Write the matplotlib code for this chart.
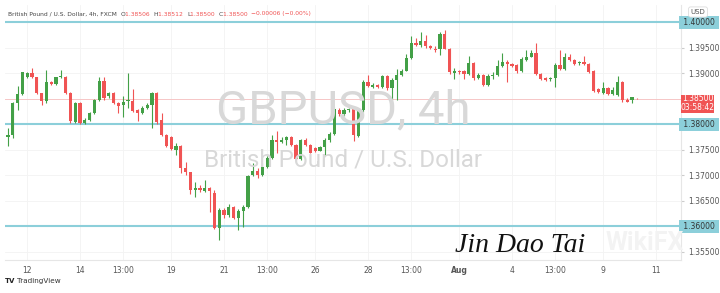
import matplotlib
matplotlib.use("Agg")
import matplotlib.pyplot as plt
import matplotlib.transforms as mtrans
from matplotlib.patches import Rectangle
import numpy as np

# ---------------- data (GBPUSD 4h, FXCM) ----------------
opens = [1.3776, 1.3780, 1.3842, 1.3859, 1.3894, 1.3900, 1.3893, 1.3861, 1.3847, 1.3883,
         1.3879, 1.3894, 1.3894, 1.3862, 1.3805, 1.3843, 1.3803, 1.3808, 1.3822, 1.3848,
         1.3886, 1.3855, 1.3862, 1.3843, 1.3838, 1.3846, 1.3847, 1.3829, 1.3822, 1.3832,
         1.3838, 1.3861, 1.3809, 1.3780, 1.3775, 1.3750, 1.3757, 1.3714, 1.3706, 1.3672,
         1.3675, 1.3670, 1.3675, 1.3666, 1.3597, 1.3633, 1.3623, 1.3638, 1.3616, 1.3631,
         1.3638, 1.3701, 1.3709, 1.3701, 1.3717, 1.3734, 1.3770, 1.3766, 1.3770, 1.3775,
         1.3760, 1.3732, 1.3770, 1.3760, 1.3753, 1.3749, 1.3755, 1.3770, 1.3781, 1.3829,
         1.3821, 1.3829, 1.3830, 1.3777, 1.3829, 1.3884, 1.3874, 1.3877, 1.3873, 1.3895,
         1.3871, 1.3887, 1.3897, 1.3905, 1.3930, 1.3960, 1.3955, 1.3964, 1.3953, 1.3949,
         1.3949, 1.3977, 1.3949, 1.3900, 1.3904, 1.3904, 1.3899, 1.3921, 1.3891, 1.3897,
         1.3877, 1.3895, 1.3897, 1.3914, 1.3923, 1.3919, 1.3917, 1.3904, 1.3927, 1.3933,
         1.3941, 1.3899, 1.3891, 1.3889, 1.3892, 1.3917, 1.3908, 1.3933, 1.3926, 1.3920,
         1.3923, 1.3919, 1.3904, 1.3869, 1.3861, 1.3871, 1.3860, 1.3858, 1.3884, 1.3849,
         1.3848, 1.38506]
highs = [1.3793, 1.3844, 1.3876, 1.3903, 1.3903, 1.3911, 1.3894, 1.3862, 1.3907, 1.3886,
         1.3893, 1.3907, 1.3895, 1.3863, 1.3844, 1.3845, 1.3813, 1.3825, 1.3850, 1.3894,
         1.3893, 1.3864, 1.3864, 1.3844, 1.3855, 1.3900, 1.3869, 1.3830, 1.3836, 1.3842,
         1.3864, 1.3864, 1.3822, 1.3782, 1.3778, 1.3763, 1.3760, 1.3727, 1.3707, 1.3688,
         1.3681, 1.3691, 1.3678, 1.3672, 1.3636, 1.3636, 1.3644, 1.3640, 1.3634, 1.3642,
         1.3701, 1.3724, 1.3715, 1.3724, 1.3738, 1.3779, 1.3788, 1.3775, 1.3778, 1.3778,
         1.3762, 1.3772, 1.3774, 1.3762, 1.3756, 1.3758, 1.3774, 1.3785, 1.3835, 1.3833,
         1.3832, 1.3832, 1.3832, 1.3832, 1.3887, 1.3897, 1.3882, 1.3879, 1.3897, 1.3897,
         1.3891, 1.3908, 1.3909, 1.3938, 1.3974, 1.3969, 1.3982, 1.3975, 1.3956, 1.3953,
         1.3981, 1.3985, 1.3950, 1.3910, 1.3907, 1.3907, 1.3934, 1.3923, 1.3901, 1.3899,
         1.3899, 1.3903, 1.3926, 1.3940, 1.3926, 1.3921, 1.3919, 1.3932, 1.3946, 1.3946,
         1.3959, 1.3901, 1.3893, 1.3894, 1.3921, 1.3947, 1.3941, 1.3938, 1.3928, 1.3925,
         1.3934, 1.3921, 1.3907, 1.3872, 1.3884, 1.3873, 1.3873, 1.3895, 1.3885, 1.3852,
         1.3853, 1.38512]
lows = [1.3757, 1.3774, 1.3829, 1.3858, 1.3892, 1.3891, 1.3860, 1.3838, 1.3842, 1.3877,
        1.3877, 1.3891, 1.3860, 1.3803, 1.3803, 1.3801, 1.3801, 1.3807, 1.3821, 1.3846,
        1.3848, 1.3851, 1.3840, 1.3822, 1.3815, 1.3832, 1.3825, 1.3806, 1.3821, 1.3830,
        1.3793, 1.3801, 1.3778, 1.3755, 1.3750, 1.3740, 1.3704, 1.3701, 1.3663, 1.3658,
        1.3668, 1.3668, 1.3629, 1.3595, 1.3574, 1.3616, 1.3619, 1.3615, 1.3593, 1.3599,
        1.3636, 1.3699, 1.3695, 1.3699, 1.3715, 1.3732, 1.3744, 1.3764, 1.3760, 1.3758,
        1.3730, 1.3730, 1.3758, 1.3744, 1.3746, 1.3748, 1.3740, 1.3766, 1.3779, 1.3817,
        1.3817, 1.3825, 1.3768, 1.3775, 1.3824, 1.3874, 1.3871, 1.3872, 1.3872, 1.3868,
        1.3848, 1.3848, 1.3895, 1.3905, 1.3928, 1.3954, 1.3952, 1.3950, 1.3948, 1.3942,
        1.3936, 1.3948, 1.3899, 1.3889, 1.3899, 1.3889, 1.3897, 1.3887, 1.3889, 1.3875,
        1.3875, 1.3889, 1.3895, 1.3913, 1.3884, 1.3913, 1.3901, 1.3903, 1.3925, 1.3932,
        1.3897, 1.3887, 1.3885, 1.3886, 1.3874, 1.3907, 1.3907, 1.3925, 1.3917, 1.3917,
        1.3917, 1.3900, 1.3864, 1.3862, 1.3860, 1.3858, 1.3858, 1.3856, 1.3845, 1.3844,
        1.3843, 1.38500]
closes = [1.3780, 1.3842, 1.3859, 1.3902, 1.3900, 1.3893, 1.3861, 1.3847, 1.3883, 1.3879,
          1.3893, 1.3896, 1.3862, 1.3807, 1.3843, 1.3803, 1.3809, 1.3822, 1.3848, 1.3886,
          1.3851, 1.3862, 1.3842, 1.3836, 1.3845, 1.3848, 1.3827, 1.3823, 1.3832, 1.3838,
          1.3861, 1.3804, 1.3780, 1.3757, 1.3751, 1.3757, 1.3714, 1.3706, 1.3672, 1.3676,
          1.3672, 1.3675, 1.3670, 1.3597, 1.3633, 1.3623, 1.3638, 1.3616, 1.3631, 1.3638,
          1.3699, 1.3708, 1.3701, 1.3717, 1.3734, 1.3770, 1.3766, 1.3770, 1.3775, 1.3760,
          1.3732, 1.3770, 1.3760, 1.3745, 1.3749, 1.3755, 1.3770, 1.3781, 1.3830, 1.3821,
          1.3829, 1.3830, 1.3779, 1.3829, 1.3884, 1.3876, 1.3877, 1.3873, 1.3895, 1.3871,
          1.3887, 1.3897, 1.3905, 1.3930, 1.3959, 1.3955, 1.3964, 1.3953, 1.3950, 1.3946,
          1.3977, 1.3949, 1.3902, 1.3905, 1.3902, 1.3899, 1.3921, 1.3891, 1.3897, 1.3877,
          1.3895, 1.3898, 1.3915, 1.3923, 1.3919, 1.3915, 1.3904, 1.3928, 1.3933, 1.3941,
          1.3899, 1.3889, 1.3887, 1.3892, 1.3917, 1.3908, 1.3933, 1.3926, 1.3919, 1.3923,
          1.3919, 1.3902, 1.3866, 1.3864, 1.3871, 1.3860, 1.3868, 1.3884, 1.3848, 1.3845,
          1.3853, 1.38500]

tick_pos = [4, 15, 24, 34, 45, 54, 64, 75, 84, 94, 105, 114, 124, 135]
tick_labels = ['12', '14', '13:00', '19', '21', '13:00', '26', '28', '13:00', 'Aug',
               '4', '13:00', '9', '11']
price_ticks = [1.355, 1.365, 1.370, 1.375, 1.390, 1.395]
levels = [1.40, 1.38, 1.36]
last_price = 1.38500

UP = '#43a047'
DOWN = '#f05454'
CYAN = '#8ccfda'

W, H = 720, 293
fig = plt.figure(figsize=(W / 100, H / 100), dpi=100)
fig.patch.set_facecolor('white')


def fx(px):
    return px / W


def fy(py):
    return 1 - py / H


ax = fig.add_axes([fx(5), fy(260), (681 - 5) / W, (260 - 5) / H])
ax.set_facecolor('white')

# watermark
fig.text(fx(343), fy(110), 'GBPUSD, 4h', ha='center', va='center', fontsize=34,
         color='#d8d8d8', family='Roboto', zorder=0)
fig.text(fx(343), fy(160), 'British Pound / U.S. Dollar', ha='center', va='center',
         fontsize=17.5, color='#d8d8d8', family='Roboto', zorder=0)
fig.text(fx(645), fy(243), 'WikiFX', ha='center', va='center', fontsize=18,
         color='#f3f3f3', family='Roboto', fontweight='bold', zorder=0)

o = np.array(opens); h = np.array(highs); l = np.array(lows); c = np.array(closes)
idx = np.arange(len(o))
cols = [UP if cc >= oo else DOWN for oo, cc in zip(o, c)]

ax.set_xlim(-0.625, 140.21)
ax.set_ylim(1.40 - 237.5 / 5100, 1.40 + 17.5 / 5100)

ax.grid(True, color='#f3f3f3', lw=0.6, zorder=0)
ax.set_axisbelow(True)

for lv in levels:
    ax.axhline(lv, color=CYAN, lw=1.5, zorder=2)
ax.axhline(last_price, color='#f6c6c6', lw=0.7, zorder=2)

ax.vlines(idx, l, h, colors=cols, lw=0.8, zorder=3)
body = np.maximum(np.abs(c - o), 0.00006)
ax.bar(idx, body, bottom=np.minimum(o, c), width=0.7, color=cols, lw=0, zorder=4)

# axes styling
for s in ['top', 'left']:
    ax.spines[s].set_visible(False)
for s in ['bottom', 'right']:
    ax.spines[s].set_color('#e6e6e6')
    ax.spines[s].set_linewidth(0.8)

ax.set_xticks(tick_pos)
ax.set_xticklabels(tick_labels)
ax.tick_params(axis='x', length=0, labelsize=5.5, labelcolor='#555555', pad=4)
for t in ax.get_xticklabels():
    if t.get_text() == 'Aug':
        t.set_fontweight('bold')

ax.yaxis.tick_right()
ax.set_yticks(price_ticks)
ax.set_yticklabels(['%.5f' % p for p in price_ticks])
ax.tick_params(axis='y', length=2, color='#cccccc', labelsize=5.5, labelcolor='#555555', pad=3)

# level labels on price axis
trans = mtrans.blended_transform_factory(ax.transAxes, ax.transData)
for lv in levels:
    ax.text(1.0, lv, ' %.5f ' % lv, transform=trans, ha='left', va='center',
            fontsize=5.5, color='#333333',
            bbox=dict(boxstyle='square,pad=0.2', fc=CYAN, ec='none'), clip_on=False)

# last price label
fig.patches.append(Rectangle((fx(681), fy(113)), (714 - 681) / W, (113 - 94.5) / H,
                             transform=fig.transFigure, fc=DOWN, ec='none'))
fig.text(fx(697.5), fy(99), '%.5f' % last_price, ha='center', va='center', fontsize=5.5,
         color='white')
fig.text(fx(697.5), fy(108), '03:58:42', ha='center', va='center', fontsize=5.5,
         color='white')

# USD box
fig.text(fx(698), fy(12), 'USD', ha='center', va='center', fontsize=5, color='#555555',
         bbox=dict(boxstyle='round,pad=0.3', fc='white', ec='#dddddd', lw=0.6))

# header legend (chained pieces)
hdr = [('O', '#444444'), ('1.38506  ', DOWN), ('H', '#444444'), ('1.38512  ', DOWN),
       ('L', '#444444'), ('1.38500  ', DOWN), ('C', '#444444'), ('1.38500  ', DOWN),
       ('\u22120.00006 (\u22120.00%)', DOWN)]
HFS = 4.3
anchor = fig.text(fx(8), fy(14), 'British Pound / U.S. Dollar, 4h, FXCM  ', ha='left',
                  va='center', fontsize=HFS, color='#444444')
for s, col in hdr:
    anchor = fig.text(0, 0, '')  if False else \
        ax.annotate(s, xy=(1, 0.5), xycoords=anchor, va='center', ha='left',
                    fontsize=HFS, color=col, annotation_clip=False)

# signature
fig.text(fx(520), fy(246), 'Jin Dao Tai', ha='center', va='center', fontsize=20,
         family='Liberation Serif', style='italic', color='#111111')

# TradingView footer
fig.text(fx(5), fy(281), 'TV', ha='left', va='center', fontsize=5, fontweight='bold',
         color='#222222')
fig.text(fx(17), fy(281), 'TradingView', ha='left', va='center', fontsize=5.2,
         color='#333333')

fig.savefig('out.png', dpi=100)
